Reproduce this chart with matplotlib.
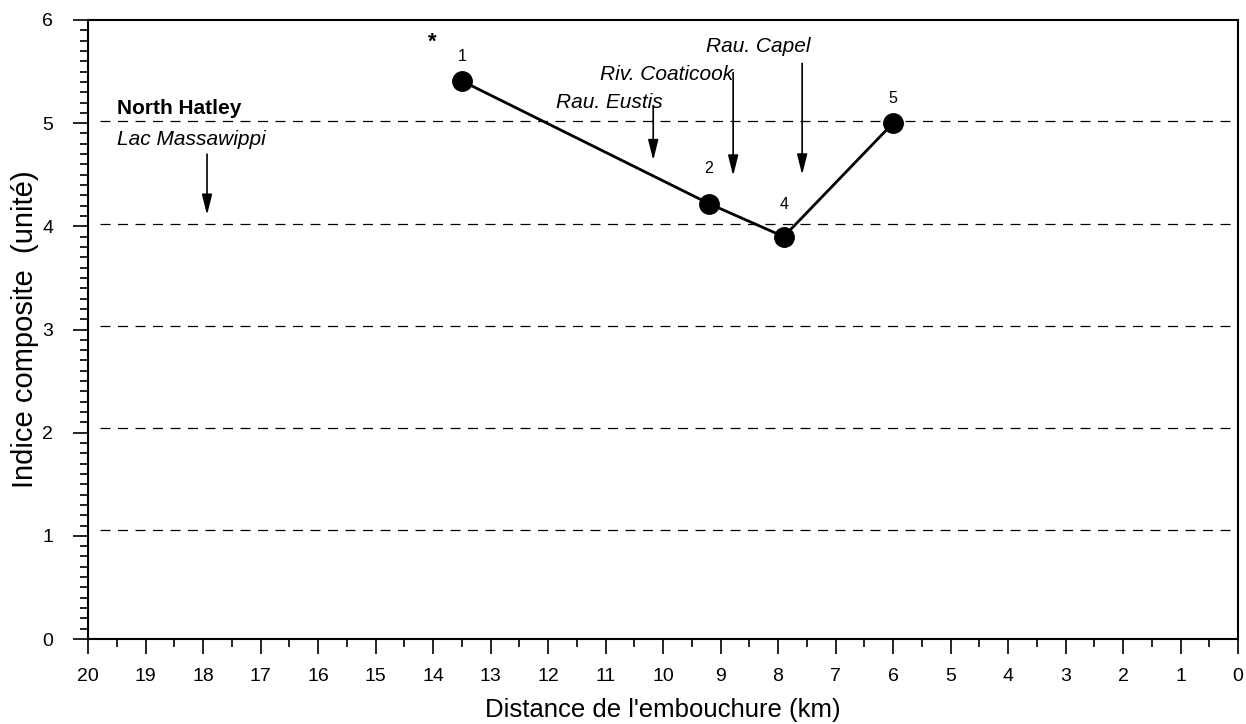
import matplotlib
matplotlib.use("Agg")
import matplotlib.pyplot as plt
from matplotlib.ticker import MultipleLocator

plt.rcParams['font.family'] = ['Liberation Sans', 'DejaVu Sans']

# Data
distance_km = [13.5, 9.2, 7.9, 6.0]
indice = [5.41, 4.22, 3.90, 5.00]
station_labels = ['1', '2', '4', '5']
grid_levels = [1.06, 2.05, 3.03, 4.02, 5.02]

tributaries = ['Lac Massawippi', 'Rau. Eustis', 'Riv. Coaticook', 'Rau. Capel']
trib_x = [17.93, 10.17, 8.78, 7.58]
trib_top = [4.70, 5.17, 5.49, 5.58]
trib_bottom = [4.11, 4.64, 4.49, 4.50]

fig = plt.figure(figsize=(12.46, 7.24), dpi=100)
ax = fig.add_axes([88/1246, 1-639/724, (1238-88)/1246, (639-20)/724])

ax.set_xlim(20, 0)
ax.set_ylim(0, 6)

for g in grid_levels:
    ax.plot([19.8, 0], [g, g], color='black', lw=0.9, dashes=(8, 6), zorder=1)

ax.plot(distance_km, indice, color='black', lw=2, marker='o', markersize=14, zorder=3)

label_dy = [0.24, 0.34, 0.31, 0.24]
for x, y, lab, dy in zip(distance_km, indice, station_labels, label_dy):
    ax.text(x, y + dy, lab, ha='center', va='center', fontsize=11.5)
ax.text(14.02, 5.78, '*', ha='center', va='center', fontsize=16, fontweight='bold')

for x, yt, yb in zip(trib_x, trib_top, trib_bottom):
    ax.annotate('', xy=(x, yb), xytext=(x, yt),
                arrowprops=dict(arrowstyle='-|>,head_length=0.8,head_width=0.2',
                                color='black', lw=1.2,
                                mutation_scale=15.5, shrinkA=0, shrinkB=0))

ax.text(19.5, 5.14, 'North Hatley', fontsize=15, fontweight='bold', ha='left', va='center')
ax.text(19.5, 4.84, 'Lac Massawippi', fontsize=15, style='italic', ha='left', va='center')
ax.text(10.94, 5.20, 'Rau. Eustis', fontsize=15, style='italic', ha='center', va='center')
ax.text(9.93, 5.47, 'Riv. Coaticook', fontsize=15, style='italic', ha='center', va='center')
ax.text(8.35, 5.74, 'Rau. Capel', fontsize=15, style='italic', ha='center', va='center')

ax.xaxis.set_major_locator(MultipleLocator(1))
ax.xaxis.set_minor_locator(MultipleLocator(0.5))
ax.yaxis.set_major_locator(MultipleLocator(1))
ax.yaxis.set_minor_locator(MultipleLocator(0.1))
ax.tick_params(axis='both', which='major', direction='out', length=11, width=1.2,
               labelsize=14)
ax.tick_params(axis='x', which='major', pad=10)
ax.tick_params(axis='y', which='major', pad=14)
ax.tick_params(axis='both', which='minor', direction='out', length=5.5, width=1.2)
for s in ax.spines.values():
    s.set_linewidth(1.5)

ax.set_xlabel("Distance de l'embouchure (km)", fontsize=18.5, labelpad=9)
ax.set_ylabel("Indice composite  (unité)", fontsize=21, labelpad=2)

fig.savefig('out.png', dpi=100)
